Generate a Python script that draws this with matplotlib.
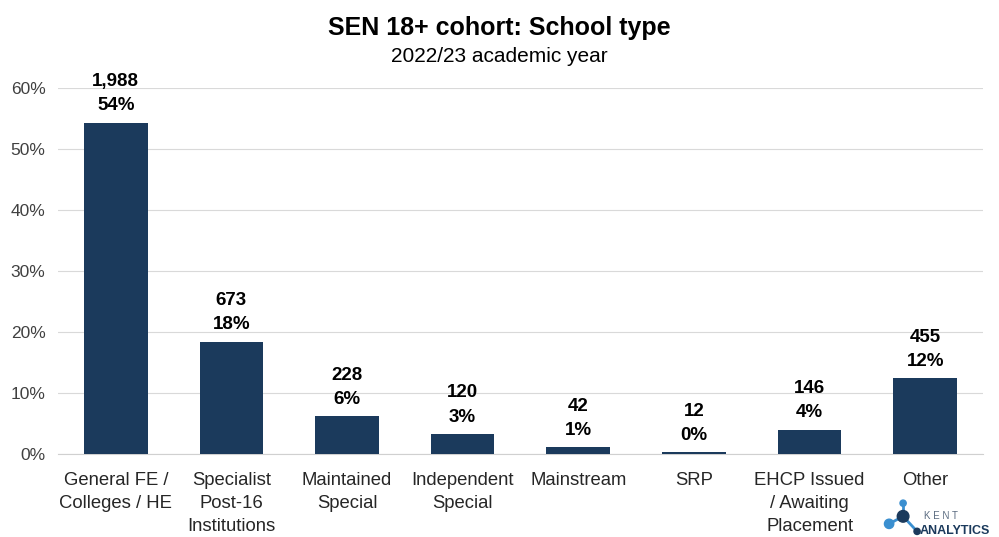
import matplotlib
matplotlib.use("Agg")
import matplotlib.pyplot as plt
from matplotlib.ticker import PercentFormatter

CATEGORIES = ["General FE /\nColleges / HE", "Specialist\nPost-16\nInstitutions", "Maintained\nSpecial",
              "Independent\nSpecial", "Mainstream", "SRP", "EHCP Issued\n/ Awaiting\nPlacement", "Other"]
COUNTS = [1988, 673, 228, 120, 42, 12, 146, 455]
SHARE = [54.3, 18.4, 6.2, 3.3, 1.1, 0.3, 4.0, 12.4]
YTICKS = [0, 10, 20, 30, 40, 50, 60]

BAR = "#1b3a5c"
plt.rcParams["font.family"] = ["Liberation Sans", "DejaVu Sans"]

fig = plt.figure(figsize=(9.99, 5.37), dpi=100)
ax = fig.add_axes([0.058, 0.1546, 0.926, 0.6815])
x = range(len(CATEGORIES))
ax.bar(x, SHARE, width=0.55, color=BAR, zorder=3)

for i, (n, s) in enumerate(zip(COUNTS, SHARE)):
    ax.annotate(f"{n:,}\n{s:.0f}%", (i, s), xytext=(0, 6), textcoords="offset points",
                ha="center", va="bottom", fontsize=13.5, fontweight="bold", linespacing=1.55)

ax.set_xlim(-0.5, len(CATEGORIES) - 0.5)
ax.set_ylim(0, 60)
ax.set_yticks(YTICKS)
ax.yaxis.set_major_formatter(PercentFormatter(decimals=0))
ax.set_xticks(list(x))
ax.set_xticklabels(CATEGORIES, fontsize=13.3, color="#262626", linespacing=1.45)
ax.tick_params(axis="y", labelsize=12.5, colors="#404040", length=0, pad=9)
ax.tick_params(axis="x", length=0, pad=13)
ax.grid(axis="y", color="#d9d9d9", linewidth=0.8, zorder=0)
for side in ["top", "right", "left"]:
    ax.spines[side].set_visible(False)
ax.spines["bottom"].set_color("#d0d0d0")

fig.text(0.5, 0.948, "SEN 18+ cohort: School type", ha="center", va="center",
         fontsize=18, fontweight="bold")
fig.text(0.5, 0.895, "2022/23 academic year", ha="center", va="center", fontsize=15)

# Kent Analytics logo
fig.text(0.925, 0.040, "K E N T", fontsize=7, color="#5a6b80", ha="left", va="center")
fig.text(0.921, 0.012, "ANALYTICS", fontsize=9, fontweight="bold", color="#1b3a5c", ha="left", va="center")
lax = fig.add_axes([0.882, 0.0, 0.04, 0.07])
lax.set_xlim(0, 1)
lax.set_ylim(0, 1)
lax.axis("off")
lax.plot([0.2, 0.55, 0.9], [0.35, 0.55, 0.15], color="#3a8fd0", lw=2)
lax.plot([0.55, 0.55], [0.55, 0.9], color="#3a8fd0", lw=2)
lax.scatter([0.2, 0.55, 0.55, 0.9], [0.35, 0.55, 0.9, 0.15], s=[45, 70, 20, 20],
            color=["#3a8fd0", BAR, "#3a8fd0", BAR], zorder=3)

fig.savefig("out.png", dpi=100)
